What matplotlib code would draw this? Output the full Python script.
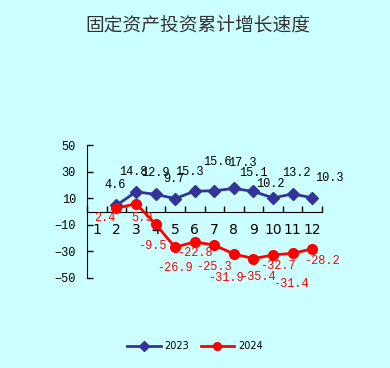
import numpy as np
import matplotlib
matplotlib.use('Agg')
import matplotlib.pyplot as plt

months = ['1', '2', '3', '4', '5', '6', '7', '8', '9', '10', '11', '12']
growth2023 = [np.nan, 4.6, 14.8, 12.9, 9.7, 15.3, 15.6, 17.3, 15.1, 10.2, 13.2, 10.3]
growth2024 = [np.nan, 2.4, 5.9, -9.5, -26.9, -22.8, -25.3, -31.9, -35.4, -32.7, -31.4, -28.2]
labels2023 = ['', '4.6', '14.8', '12.9', '9.7', '15.3', '15.6', '17.3', '15.1', '10.2', '13.2', '10.3']
labels2024 = ['', '2.4', '5.9', '-9.5', '-26.9', '-22.8', '-25.3', '-31.9', '-35.4', '-32.7', '-31.4', '-28.2']
yticks = [50, 30, 10, -10, -30, -50]

# label offsets in pixels (dx, dy)
off2023 = [(0, 0), (-1, 20), (-3, 20), (0, 21), (-1, 20), (-5, 19), (3, 29),
           (8, 25), (0, 18), (-3, 14), (4, 21), (17, 20)]
off2024 = [(0, 0), (-12, -10), (6, -14), (-3, -22), (0, -21), (0, -11), (0, -22),
           (-8, -24), (4, -18), (5, -11), (-2, -31), (10, -12)]

bg = '#ccffff'
mono = ['Liberation Mono', 'DejaVu Sans Mono']

fig = plt.figure(figsize=(3.9, 3.68), dpi=100, facecolor=bg)
ax = fig.add_axes([87/390., 1-278/368., 235/390., 133/368.])
ax.set_facecolor(bg)

x = np.arange(1, 13)
ax.plot(x, growth2023, color='#333399', lw=2, marker='D', ms=6, label='2023', zorder=3)
ax.plot(x, growth2024, color='#ff0000', lw=2, marker='o', ms=7, label='2024', zorder=3)

for i in range(12):
    if labels2023[i]:
        ax.annotate(labels2023[i], (x[i], growth2023[i]), xytext=off2023[i],
                    textcoords='offset pixels', ha='center', va='center',
                    fontsize=8.6, family=mono, color='black')
    if labels2024[i]:
        ax.annotate(labels2024[i], (x[i], growth2024[i]), xytext=off2024[i],
                    textcoords='offset pixels', ha='center', va='center',
                    fontsize=8.6, family=mono, color='red')

ax.set_xlim(0.5, 12.5)
ax.set_ylim(-50, 50)
ax.set_yticks(yticks)
ax.set_yticklabels([str(v).replace('-', '\u2212') for v in yticks], family=mono, fontsize=8.6)

ax.set_xticks(np.arange(0.5, 13, 1))
ax.set_xticklabels([])
ax.set_xticks(x, minor=True)
ax.set_xticklabels(months, minor=True, family=mono, fontsize=8.6)
ax.tick_params(axis='x', which='major', direction='in', length=4, width=1)
ax.tick_params(axis='x', which='minor', length=0, pad=8)
ax.tick_params(axis='y', direction='in', length=4, width=1, pad=8)

for s in ['top', 'right']:
    ax.spines[s].set_visible(False)
ax.spines['bottom'].set_position(('data', 0))

fig.text(0.508, 1-25/368., '固定资产投资累计增长速度', ha='center', va='center',
         fontsize=13.5, color='#333333', family=['Noto Sans CJK SC', 'DejaVu Sans'])

fig.legend(loc='center', bbox_to_anchor=(0.5, 1-346/368.), ncol=2, frameon=False,
           fontsize=7, handlelength=3.4, columnspacing=1.2, handletextpad=0.4,
           markerscale=0.8)

fig.savefig('out.png', dpi=100, facecolor=bg)
